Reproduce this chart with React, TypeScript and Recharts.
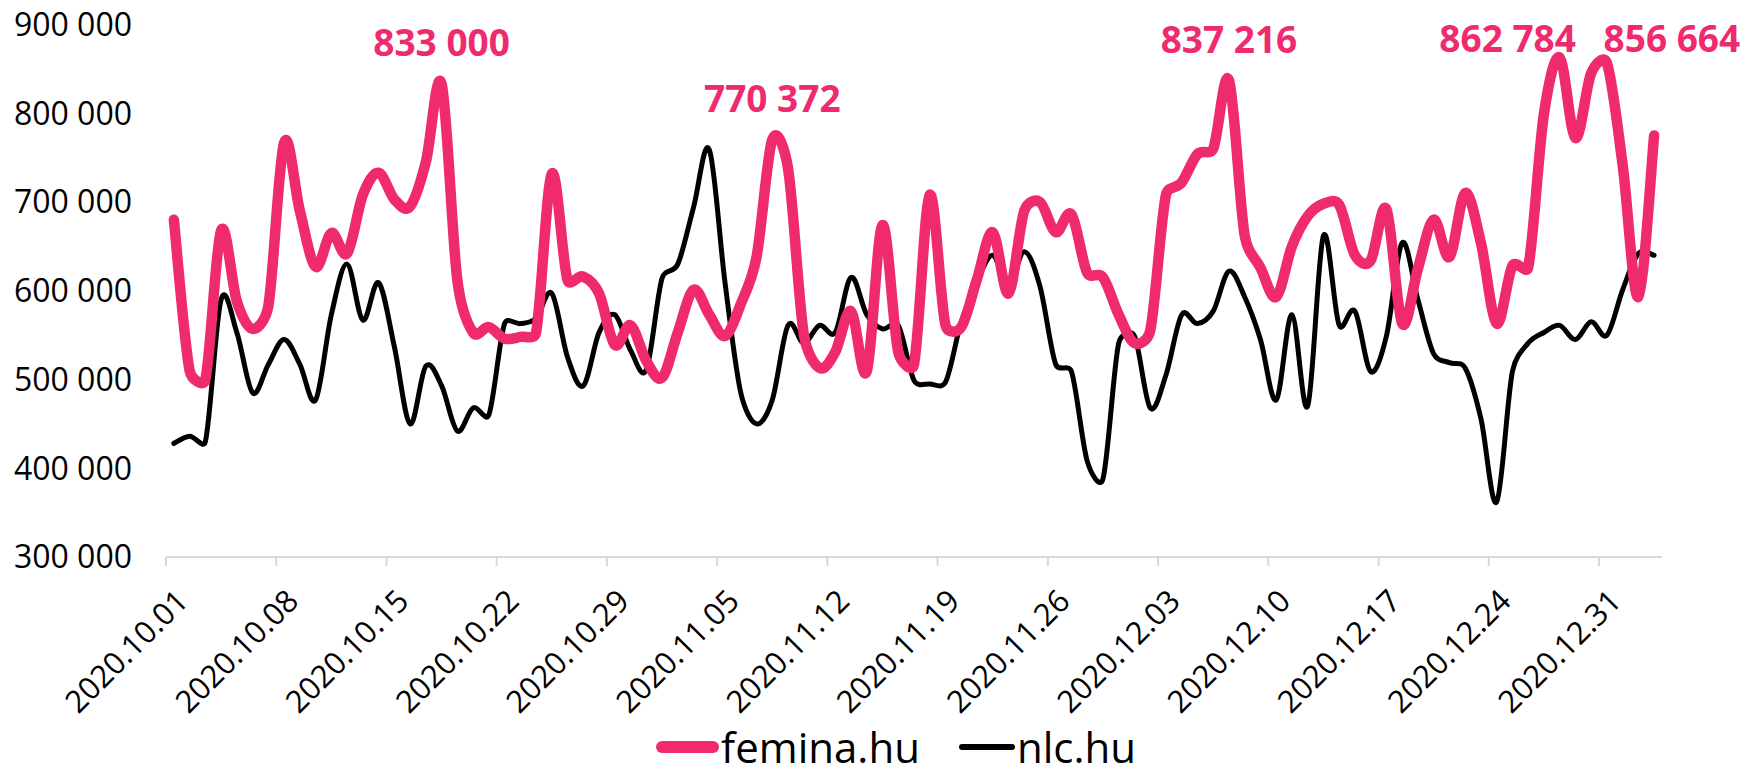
import React from "react"
import { Legend, LabelList, Line, LineChart, XAxis, YAxis } from "recharts"

const FONT = '"Open Sans", "Noto Sans", sans-serif'
const PINK = "#EF2A6E"

// daily pageviews, 2020.10.01 – 2021.01.03
const femina = [
  680000, 510000, 500000, 668000, 588000, 557000, 583000, 767000, 690000, 627000,
  665000, 642000, 708000, 733000, 703000, 695000, 745000, 833000, 612000, 553000,
  559000, 546000, 548000, 553000, 732000, 612000, 616000, 597000, 539000, 561000,
  521000, 502000, 553000, 601000, 573000, 549000, 585000, 638000, 770372, 738000,
  551000, 513000, 531000, 577000, 509000, 674000, 531000, 517000, 708000, 561000,
  559000, 613000, 666000, 597000, 690000, 700000, 666000, 686000, 620000, 615000,
  573000, 541000, 555000, 708000, 722000, 754000, 760000, 837216, 662000, 626000,
  593000, 650000, 684000, 698000, 697000, 640000, 634000, 692000, 563000, 625000,
  680000, 638000, 710000, 654000, 563000, 628000, 626000, 799000, 862784, 772000,
  845000, 856664, 742000, 593000, 775000,
]

const nlc = [
  428000, 436000, 430000, 590000, 553000, 485000, 517000, 545000, 517000, 477000,
  573000, 630000, 567000, 609000, 537000, 450000, 515000, 493000, 442000, 468000,
  460000, 563000, 563000, 569000, 597000, 525000, 493000, 553000, 573000, 533000,
  511000, 614000, 630000, 694000, 759000, 609000, 485000, 450000, 477000, 561000,
  541000, 561000, 553000, 615000, 573000, 557000, 561000, 499000, 495000, 497000,
  565000, 610000, 640000, 605000, 644000, 605000, 517000, 509000, 408000, 388000,
  541000, 549000, 468000, 505000, 573000, 563000, 577000, 622000, 593000, 545000,
  477000, 573000, 470000, 662000, 561000, 577000, 509000, 549000, 654000, 590000,
  529000, 519000, 513000, 456000, 362000, 509000, 541000, 553000, 561000, 545000,
  565000, 550000, 601000, 642000, 640000,
]

const seriesNames = ["femina.hu", "nlc.hu"]

const tickLabels = [
  "2020.10.01", "2020.10.08", "2020.10.15", "2020.10.22", "2020.10.29",
  "2020.11.05", "2020.11.12", "2020.11.19", "2020.11.26", "2020.12.03",
  "2020.12.10", "2020.12.17", "2020.12.24", "2020.12.31",
]

const yTicks = [300000, 400000, 500000, 600000, 700000, 800000, 900000]

// peaks that carry a value label, with the horizontal nudge used in the original
const peakLabels = [
  { index: 17, dx: 0 },
  { index: 38, dx: 0 },
  { index: 67, dx: 0 },
  { index: 88, dx: -52 },
  { index: 91, dx: 65 },
]

const pad = (n: number) => (n < 10 ? "0" + n : "" + n)
const dates = femina.map((_, i) => {
  const d = new Date(Date.UTC(2020, 9, 1 + i))
  return `${d.getUTCFullYear()}.${pad(d.getUTCMonth() + 1)}.${pad(d.getUTCDate())}`
})

// each day sits in the middle of its slot, ticks on the slot borders
const data = dates.map((date, i) => ({ x: i + 0.5, date, femina: femina[i], nlc: nlc[i] }))
const xTicks = tickLabels.map((t) => dates.indexOf(t))

const fmt = (v: number) => String(Math.round(v)).replace(/\B(?=(\d{3})+(?!\d))/g, " ")

// spreadsheet-like smoothing: 1/6 tangents, arm capped at half the segment
const smooth = (context: any) => {
  let pts: number[][] = []
  const dist = (a: number[], b: number[]) => Math.hypot(a[0] - b[0], a[1] - b[1])
  return {
    areaStart() {},
    areaEnd() {},
    lineStart() {
      pts = []
    },
    point(x: number, y: number) {
      pts.push([+x, +y])
    },
    lineEnd() {
      const n = pts.length
      if (!n) return
      context.moveTo(pts[0][0], pts[0][1])
      for (let i = 0; i < n - 1; i++) {
        const p0 = pts[Math.max(i - 1, 0)]
        const p1 = pts[i]
        const p2 = pts[i + 1]
        const p3 = pts[Math.min(i + 2, n - 1)]
        const d12 = dist(p1, p2)
        const d02 = dist(p0, p2)
        const d13 = dist(p1, p3)
        const f = d02 > 0 && d02 / 6 > d12 / 2 ? d12 / (2 * d02) : 1 / 6
        const g = d13 > 0 && d13 / 6 > d12 / 2 ? d12 / (2 * d13) : 1 / 6
        context.bezierCurveTo(
          p1[0] + f * (p2[0] - p0[0]),
          p1[1] + f * (p2[1] - p0[1]),
          p2[0] - g * (p3[0] - p1[0]),
          p2[1] - g * (p3[1] - p1[1]),
          p2[0],
          p2[1]
        )
      }
    },
  }
}

function DateTick({ x, y, payload }: any) {
  const ax = x + 24
  const ay = y + 35
  return (
    <text x={ax} y={ay} transform={`rotate(-45 ${ax} ${ay})`} textAnchor="end" fontSize={31} fontFamily={FONT} fill="#000">
      {dates[payload.value]}
    </text>
  )
}

function PeakLabel({ x, y, value, index }: any) {
  const lab = peakLabels.find((l) => l.index === index)
  if (!lab) return null
  const cy = Math.max(y - 41, 39)
  return (
    <text x={x + lab.dx} y={cy} dy="0.36em" textAnchor="middle" fontSize={37} fontWeight={700} fontFamily={FONT} fill={PINK}>
      {fmt(value)}
    </text>
  )
}

function LegendContent() {
  return (
    <div
      style={{
        display: "flex",
        justifyContent: "center",
        alignItems: "center",
        paddingLeft: 44,
        fontFamily: FONT,
        fontSize: 42,
        lineHeight: "46px",
        color: "#000",
      }}
    >
      <span style={{ width: 63, height: 12, borderRadius: 6, background: PINK, marginRight: 2 }} />
      <span>{seriesNames[0]}</span>
      <span style={{ width: 56, height: 6, borderRadius: 3, background: "#000", marginLeft: 39, marginRight: 2 }} />
      <span>{seriesNames[1]}</span>
    </div>
  )
}

export default function App() {
  return (
    <div style={{ width: 1748, height: 767, background: "#fff", overflow: "hidden" }}>
      <style>{"body{margin:0}"}</style>
      <LineChart width={1748} height={767} data={data} margin={{ top: 24.5, right: 86, bottom: 0, left: 0 }}>
        <XAxis
          type="number"
          dataKey="x"
          domain={[0, 95]}
          ticks={xTicks}
          interval={0}
          height={210}
          tickSize={9}
          tick={<DateTick />}
          tickLine={{ stroke: "#d9d9d9", strokeWidth: 2 }}
          axisLine={{ stroke: "#d9d9d9", strokeWidth: 2 }}
        />
        <YAxis
          type="number"
          domain={[300000, 900000]}
          ticks={yTicks}
          interval={0}
          width={166}
          axisLine={false}
          tickLine={false}
          tickSize={0}
          tickMargin={34}
          tickFormatter={fmt}
          tick={{ fontSize: 32, fill: "#000", fontFamily: FONT }}
        />
        <Legend
          verticalAlign="middle"
          align="center"
          layout="horizontal"
          wrapperStyle={{ top: 724, left: 0, width: 1748 }}
          content={<LegendContent />}
        />
        <Line
          dataKey="nlc"
          name={seriesNames[1]}
          type={smooth as any}
          stroke="#000"
          strokeWidth={5}
          strokeLinecap="round"
          strokeLinejoin="round"
          dot={false}
          activeDot={false}
          isAnimationActive={false}
        />
        <Line
          dataKey="femina"
          name={seriesNames[0]}
          type={smooth as any}
          stroke={PINK}
          strokeWidth={10.5}
          strokeLinecap="round"
          strokeLinejoin="round"
          dot={false}
          activeDot={false}
          isAnimationActive={false}
        >
          <LabelList dataKey="femina" content={<PeakLabel />} />
        </Line>
      </LineChart>
    </div>
  )
}
